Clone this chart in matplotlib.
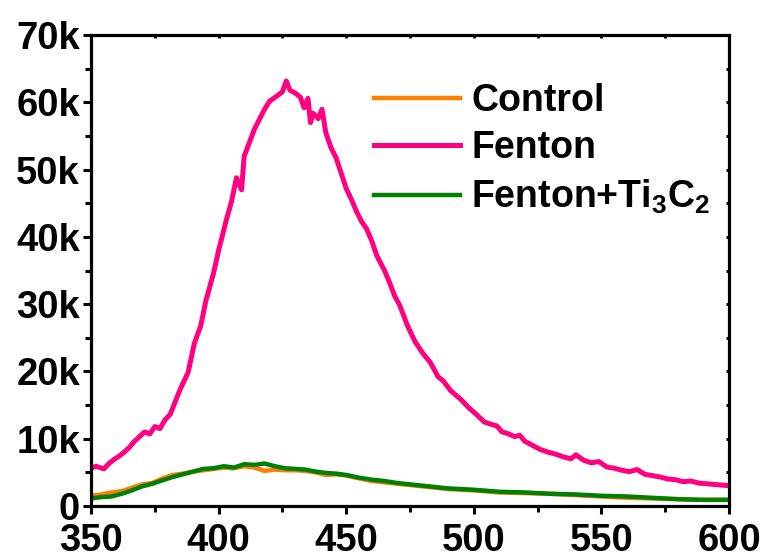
import matplotlib
matplotlib.use("Agg")
import matplotlib.pyplot as plt
from matplotlib.ticker import MultipleLocator, FuncFormatter

plt.rcParams['font.family'] = ['Liberation Sans', 'DejaVu Sans']
plt.rcParams['font.weight'] = 'bold'
plt.rcParams['mathtext.default'] = 'bf'

# Fenton
fenton_x = [350, 352, 355, 357, 359, 361, 363, 365, 367, 369, 371, 373, 375, 377, 379,
            381, 383, 385, 388, 390.5, 393, 395, 398, 400, 403, 405, 407, 409, 410, 412,
            414, 416, 418, 420, 423, 425, 426.5, 428, 430, 432, 433.5, 435, 436, 437, 439,
            440.5, 442, 444, 446, 448, 450, 452, 454, 456, 458, 460, 462, 465, 467, 469,
            471, 474, 477, 480, 483, 486, 488, 491, 495, 498, 501, 504, 507, 509, 511, 513,
            516, 518, 520, 523, 526, 529, 532, 535, 538, 540, 543, 546, 549, 552, 555, 558,
            561, 564, 567, 570, 573, 576, 579, 582, 585, 588, 591, 594, 597, 600]
fenton_y = [5600, 5900, 5500, 6300, 6900, 7400, 8000, 8700, 9600, 10300, 11000, 10700, 11800, 11500, 12800,
            13600, 15500, 17400, 19800, 24200, 26800, 30500, 34600, 38000, 42500, 45200, 48800, 47000, 52000, 54000,
            56000, 57500, 59000, 60200, 61000, 61600, 63200, 61800, 61400, 60800, 59200, 60600, 57000, 58400, 57600,
            59000, 55500, 53300, 51800, 49500, 47200, 45600, 43800, 42300, 41200, 39400, 37200, 35000, 33200, 31200,
            29800, 26800, 24400, 22700, 21300, 19200, 18600, 17100, 15800, 14600, 13600, 12500, 12100, 11900, 11000, 10800,
            10300, 10500, 9600, 9000, 8400, 8000, 7700, 7300, 7000, 7600, 6800, 6400, 6600, 5800, 5600, 5300,
            5100, 5400, 4700, 4500, 4300, 4000, 3900, 3600, 3700, 3400, 3300, 3200, 3100, 3000]

# Control
control_x = [350, 354, 358, 362, 366, 370, 374, 378, 382, 386, 390, 394, 398, 402, 406,
             410, 414, 418, 422, 426, 430, 434, 438, 442, 446, 450, 455, 460, 465, 470,
             475, 480, 490, 500, 510, 520, 530, 540, 550, 560, 570, 580, 590, 600]
control_y = [1500, 1700, 2000, 2200, 2700, 3200, 3400, 4100, 4600, 4800, 5100, 5300, 5500, 5700, 5600,
             5900, 5700, 5200, 5400, 5300, 5300, 5200, 5000, 4600, 4700, 4500, 4100, 3700, 3500, 3300,
             3100, 2900, 2500, 2300, 2000, 1900, 1800, 1600, 1400, 1200, 1100, 1000, 900, 900]

# Fenton+Ti3C2
ti3c2_x = [350, 354, 358, 362, 366, 370, 374, 378, 382, 386, 390, 394, 398, 402, 406,
           410, 414, 418, 422, 426, 430, 434, 438, 442, 446, 450, 455, 460, 465, 470,
           475, 480, 490, 500, 510, 520, 530, 540, 550, 560, 570, 580, 590, 600]
ti3c2_y = [1100, 1300, 1400, 1800, 2300, 2900, 3300, 3800, 4300, 4700, 5100, 5500, 5600, 5900, 5700,
           6200, 6100, 6300, 5900, 5600, 5500, 5400, 5100, 4900, 4800, 4600, 4200, 3900, 3700, 3400,
           3200, 3000, 2600, 2400, 2100, 2000, 1800, 1700, 1500, 1400, 1200, 1000, 900, 900]

labels = ['Control', 'Fenton', 'Fenton+Ti$_\\mathregular{3}$C$_\\mathregular{2}$']
colors = ['#FF8000', '#FF0080', '#008000']

fig = plt.figure(figsize=(7.65, 5.59), dpi=100)
ax = fig.add_axes([0.119, 0.095, 0.834, 0.842])

ax.plot(control_x, control_y, color=colors[0], lw=3.2, label=labels[0])
ax.plot(fenton_x, fenton_y, color=colors[1], lw=3.6, label=labels[1])
ax.plot(ti3c2_x, ti3c2_y, color=colors[2], lw=3.2, label=labels[2])

ax.set_xlim(350, 600)
ax.set_ylim(0, 70000)
ax.xaxis.set_major_locator(MultipleLocator(50))
ax.xaxis.set_minor_locator(MultipleLocator(25))
ax.yaxis.set_major_locator(MultipleLocator(10000))
ax.yaxis.set_minor_locator(MultipleLocator(5000))
ax.yaxis.set_major_formatter(FuncFormatter(lambda v, p: '0' if v == 0 else f'{int(v/1000)}k'))

for s in ax.spines.values():
    s.set_linewidth(2.3)

ax.tick_params(which='major', direction='out', length=6, width=2.2, labelsize=27.5)
ax.tick_params(axis='y', which='major', pad=2)
ax.tick_params(axis='x', which='major', pad=6.5)
ax.tick_params(which='minor', direction='out', length=4, width=2.2)
ax.tick_params(top=False, right=False)
for lab in ax.get_xticklabels() + ax.get_yticklabels():
    lab.set_fontweight('bold')

# small inward ticks on top and right
axt = ax.secondary_xaxis('top')
axt.xaxis.set_major_locator(MultipleLocator(25))
axt.tick_params(direction='in', length=2, width=2, labeltop=False)
axr = ax.secondary_yaxis('right')
axr.yaxis.set_major_locator(MultipleLocator(5000))
axr.tick_params(direction='in', length=2, width=2, labelright=False)

leg = ax.legend(loc='upper left', bbox_to_anchor=(0.42, 0.93), frameon=False,
                prop={'family': 'Liberation Sans', 'weight': 'bold', 'size': 27},
                handlelength=2.3, handletextpad=0.3, labelspacing=0.3, borderaxespad=0)

fig.savefig('out.png', dpi=100)
